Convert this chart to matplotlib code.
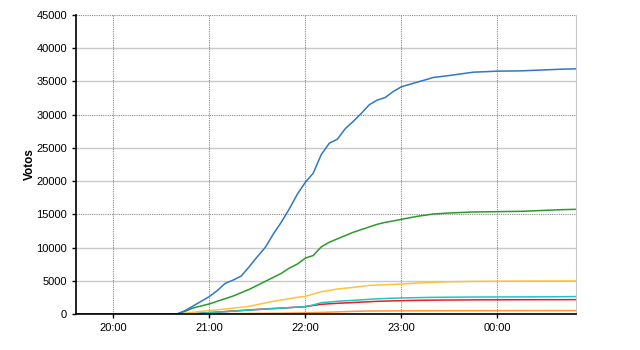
import matplotlib
matplotlib.use("Agg")
import matplotlib.pyplot as plt
import matplotlib.dates as mdates
from datetime import datetime, timedelta

# sample times (HH:MM), after midnight rolls to next day
times = ["19:37", "20:40", "20:45", "20:50", "20:55", "21:00", "21:05", "21:10", "21:15",
         "21:20", "21:25", "21:30", "21:35", "21:40", "21:45", "21:50", "21:55", "22:00",
         "22:05", "22:10", "22:15", "22:20", "22:25", "22:30", "22:35", "22:40", "22:45",
         "22:50", "22:55", "23:00", "23:10", "23:20", "23:30", "23:45", "00:00", "00:15",
         "00:30", "00:40", "00:49"]

blue = [0, 0, 500, 1200, 1900, 2600, 3500, 4600, 5100, 5700, 7100, 8600, 10000, 12000,
        13800, 15800, 18000, 19800, 21200, 24000, 25700, 26300, 27900, 29000, 30200, 31500,
        32200, 32600, 33500, 34200, 34900, 35600, 35900, 36400, 36550, 36600, 36750, 36850, 36900]
green = [0, 0, 400, 900, 1200, 1500, 1900, 2300, 2700, 3200, 3700, 4300, 4900, 5500, 6100,
         6900, 7500, 8400, 8800, 10100, 10800, 11300, 11800, 12300, 12700, 13100, 13500, 13800,
         14000, 14250, 14700, 15050, 15200, 15350, 15400, 15450, 15600, 15700, 15750]
yellow = [0, 0, 100, 250, 400, 500, 620, 750, 870, 1000, 1150, 1400, 1650, 1900, 2100, 2300,
          2500, 2650, 3000, 3350, 3550, 3750, 3880, 4000, 4150, 4300, 4350, 4400, 4450, 4500,
          4650, 4750, 4850, 4900, 4930, 4950, 4960, 4960, 4970]
cyan = [0, 0, 0, 50, 120, 200, 280, 350, 420, 500, 580, 650, 730, 800, 870, 950, 1030, 1100,
        1350, 1700, 1800, 1900, 1980, 2050, 2120, 2200, 2280, 2330, 2370, 2400, 2460, 2500,
        2520, 2550, 2560, 2570, 2580, 2600, 2620]
red = [0, 0, 0, 20, 100, 200, 280, 360, 440, 520, 600, 680, 750, 820, 880, 950, 1030, 1100,
       1280, 1450, 1530, 1600, 1660, 1720, 1780, 1840, 1900, 1940, 1970, 2000, 2050, 2080,
       2100, 2120, 2130, 2140, 2150, 2150, 2160]
orange = [0, 0, 0, 0, 10, 20, 30, 40, 50, 60, 70, 80, 90, 100, 110, 130, 150, 170, 200, 230,
          270, 310, 350, 390, 420, 440, 450, 455, 460, 465, 475, 480, 485, 490, 495, 500, 505,
          505, 510]


def to_dt(s):
    h, m = map(int, s.split(":"))
    d = datetime(2011, 5, 22, h, m)
    if h < 12:
        d += timedelta(days=1)
    return d


x = [to_dt(t) for t in times]

plt.rcParams['font.family'] = ['Liberation Sans', 'DejaVu Sans']
fig = plt.figure(figsize=(6.4, 3.5), dpi=100)
ax = fig.add_axes([0.119, 0.103, 0.781, 0.854])

ax.plot(x, orange, color="#ff9933", lw=1.1)
ax.plot(x, red, color="#ee1c1c", lw=1.1)
ax.plot(x, cyan, color="#22c4c4", lw=1.1)
ax.plot(x, yellow, color="#ffc23e", lw=1.1)
ax.plot(x, green, color="#2a9a2a", lw=1.1)
ax.plot(x, blue, color="#2f78c4", lw=1.1)

ax.set_ylim(0, 45000)
ax.set_xlim(to_dt("19:37"), to_dt("00:49"))
ax.set_yticks(range(0, 45001, 5000))
ax.xaxis.set_major_locator(mdates.HourLocator())
ax.xaxis.set_major_formatter(mdates.DateFormatter("%H:%M"))

for v in range(5000, 45001, 5000):
    if v % 15000 == 0:
        ax.axhline(v, color="#888888", lw=0.8, ls=(0, (1, 1)), zorder=0)
    else:
        ax.axhline(v, color="#c8c8c8", lw=1.0, zorder=0)
ax.grid(axis="x", color="#888888", lw=0.8, ls=(0, (1, 1)))
ax.set_axisbelow(True)

ax.spines["top"].set_visible(False)
ax.spines["right"].set_color("#c8c8c8")
ax.spines["left"].set_linewidth(1.2)
ax.spines["bottom"].set_linewidth(1.2)
ax.tick_params(labelsize=8, length=3, width=1, direction="out")
ax.tick_params(axis="y", right=False)
ax.set_ylabel("Votos", fontsize=8.5, fontweight="bold", labelpad=0)

fig.savefig("out.png", dpi=100)
